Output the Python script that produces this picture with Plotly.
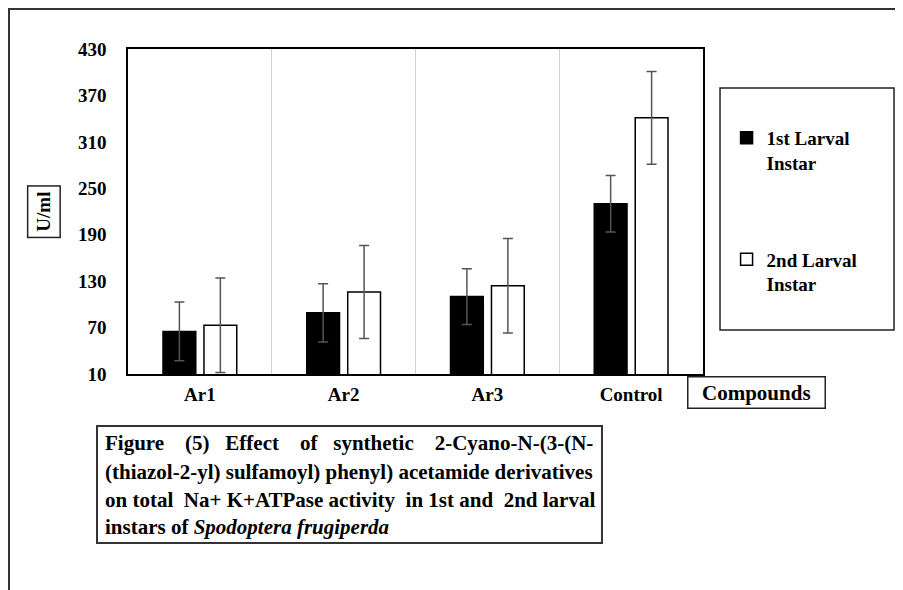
import plotly.graph_objects as go

categories = ["Ar1", "Ar2", "Ar3", "Control"]
instar1 = [65, 89, 110, 230]
instar1_err = [38, 37.5, 36, 36.5]
instar2 = [73, 116, 124, 341]
instar2_err = [61, 60, 61, 60]
series_names = ["1st Larval<br>Instar", "2nd Larval<br>Instar"]
y_ticks = [10, 70, 130, 190, 250, 310, 370, 430]

FONT = '"Liberation Serif", "Times New Roman", Times, serif'
NB = "\u00a0"

fig = go.Figure()
fig.add_trace(go.Bar(
    x=categories, y=instar1, name=series_names[0], legendgroup="a",
    marker=dict(color="black", line=dict(color="black", width=1.5)),
    error_y=dict(type="data", array=instar1_err, color="#555555", thickness=1.5, width=5),
))
fig.add_trace(go.Bar(
    x=categories, y=instar2, name=series_names[1], legendgroup="b",
    marker=dict(color="white", line=dict(color="black", width=1.5)),
    error_y=dict(type="data", array=instar2_err, color="#555555", thickness=1.5, width=5),
))

def sp(n):
    return NB * n

lines = [
    "Figure" + sp(4) + "(5)" + sp(3) + "Effect" + sp(4) + "of" + sp(3) + "synthetic" + sp(4) + "2-Cyano-N-(3-(N-",
    "(thiazol-2-yl) sulfamoyl) phenyl) acetamide derivatives",
    "on total " + NB + "Na+ K+ATPase activity " + NB + "in 1st and " + NB + "2nd larval",
    "instars of <i>Spodoptera frugiperda</i>",
]
line_y = [-0.2123, -0.3015, -0.3877, -0.4708]

annotations = []
for t, yy in zip(lines, line_y):
    annotations.append(dict(
        text="<b>" + t + "</b>", x=-0.0435, y=yy, xref="paper", yref="paper",
        xanchor="left", yanchor="middle", showarrow=False, align="left",
        font=dict(family=FONT, size=21, color="black"),
    ))
annotations.append(dict(
    text="<b>U/ml</b>", x=-0.146, y=0.498, xref="paper", yref="paper",
    xanchor="center", yanchor="middle",
    textangle=-90, showarrow=False, bordercolor="#222", borderwidth=1.5, borderpad=5,
    font=dict(family=FONT, size=19, color="black"),
))
annotations.append(dict(
    text="<b>" + sp(2) + "Compounds" + sp(2) + "</b>", x=1.093, y=-0.058, xref="paper", yref="paper",
    xanchor="center", yanchor="middle",
    showarrow=False, bordercolor="#222", borderwidth=1.5, borderpad=3,
    font=dict(family=FONT, size=21, color="black"),
))

shapes = [
    dict(type="rect", xref="paper", yref="paper", x0=-0.207, x1=1.4, y0=-0.75, y1=1.123,
         line=dict(color="#333", width=2), fillcolor="rgba(0,0,0,0)", layer="below"),
    dict(type="rect", xref="paper", yref="paper", x0=1.0296, x1=1.3322, y0=0.1354, y1=0.88,
         line=dict(color="#222", width=1.5)),
    dict(type="rect", xref="paper", yref="paper", x0=-0.0539, x1=0.8243, y0=-0.52, y1=-0.16,
         line=dict(color="#333", width=2)),
]

fig.update_layout(
    width=895, height=582,
    margin=dict(l=120, r=200, t=41, b=216),
    paper_bgcolor="white", plot_bgcolor="white",
    barmode="group", bargap=0.43, bargroupgap=0.2,
    font=dict(family=FONT, color="black"),
    showlegend=True,
    legend=dict(
        x=1.041, y=0.785, xanchor="left", yanchor="top",
        font=dict(family=FONT, size=19, color="black", weight="bold"),
        tracegroupgap=69, valign="top", traceorder="grouped",
        bgcolor="rgba(0,0,0,0)",
    ),
    annotations=annotations,
    shapes=shapes,
)
fig.update_xaxes(
    showline=True, linecolor="black", linewidth=1.5, mirror=True,
    showgrid=True, gridcolor="#d0d0d0", gridwidth=1, tickson="boundaries",
    ticks="", ticklabelstandoff=2,
    tickfont=dict(family=FONT, size=19, color="black", weight="bold"),
)
fig.update_yaxes(
    range=[10, 430], tickvals=y_ticks, showgrid=False, zeroline=False,
    showline=True, linecolor="black", linewidth=1.5, mirror=True,
    ticks="", ticklabelstandoff=16,
    tickfont=dict(family=FONT, size=19, color="black", weight="bold"),
)

fig.write_html("out.html")
